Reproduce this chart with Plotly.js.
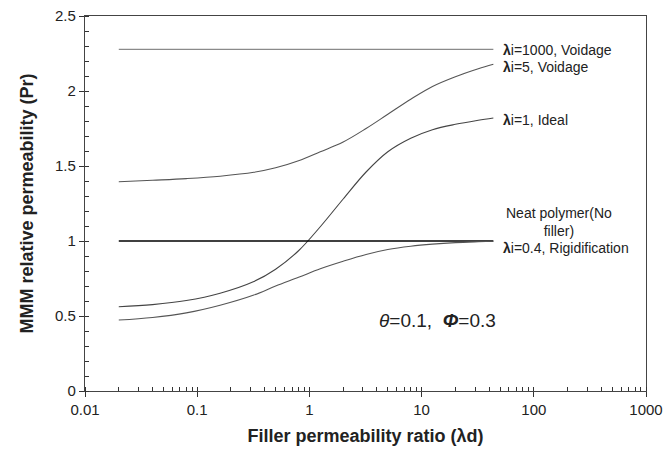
<!DOCTYPE html>
<html>
<head>
<meta charset="utf-8">
<script src="https://cdn.plot.ly/plotly-3.0.1.min.js"></script>
<style>html,body{margin:0;padding:0;background:#fff;}#chart{width:665px;height:453px;}</style>
</head>
<body>
<div id="chart"></div>
<script>
// Filler permeability ratio (λd)
const lambdaD = [0.02, 0.04, 0.08, 0.16, 0.32, 0.5, 0.8, 1.25, 2, 3.2, 5, 8, 12.5, 20, 32, 43.6];
const lambdaI1000 = [2.278, 2.278, 2.278, 2.278, 2.278, 2.278, 2.278, 2.278, 2.278, 2.278, 2.278, 2.278, 2.278, 2.278, 2.278, 2.278];
const lambdaI5 = [1.395, 1.405, 1.416, 1.432, 1.458, 1.488, 1.535, 1.595, 1.66, 1.75, 1.845, 1.945, 2.03, 2.095, 2.148, 2.178];
const lambdaI1 = [0.562, 0.576, 0.603, 0.652, 0.73, 0.812, 0.935, 1.095, 1.28, 1.46, 1.595, 1.685, 1.742, 1.778, 1.805, 1.82];
const neatPolymer = [1, 1, 1, 1, 1, 1, 1, 1, 1, 1, 1, 1, 1, 1, 1, 1];
const lambdaI04 = [0.473, 0.490, 0.521, 0.572, 0.64, 0.70, 0.758, 0.815, 0.865, 0.91, 0.943, 0.965, 0.979, 0.989, 0.995, 0.998];

const seriesNames = ["λi=1000, Voidage", "λi=5, Voidage", "λi=1, Ideal", "Neat polymer(No filler)", "λi=0.4, Rigidification"];
const xTickVals = [0.01, 0.1, 1, 10, 100, 1000];
const xTickText = ["0.01", "0.1", "1", "10", "100", "1000"];

const FONT = "Arial, 'Liberation Sans', sans-serif";
const curve = (y, name, color, width) => ({
  x: lambdaD, y: y, name: name, type: "scatter", mode: "lines",
  line: {color: color, width: width, shape: "spline", smoothing: 1},
  hoverinfo: "skip"
});

const data = [
  curve(lambdaI1000, seriesNames[0], "#8a8a8a", 1.2),
  curve(lambdaI5, seriesNames[1], "#555555", 1.1),
  curve(lambdaI1, seriesNames[2], "#444444", 1.1),
  curve(neatPolymer, seriesNames[3], "#000000", 1.6),
  curve(lambdaI04, seriesNames[4], "#555555", 1.1)
];

const lastX = lambdaD[lambdaD.length - 1];
const ann = (text, y, opts) => Object.assign({
  x: Math.log10(lastX), y: y, xref: "x", yref: "y", text: text, showarrow: false,
  xanchor: "left", xshift: 8, font: {family: FONT, size: 14, color: "#222"}
}, opts || {});

const layout = {
  width: 665, height: 453,
  margin: {l: 85, r: 19, t: 16, b: 62},
  paper_bgcolor: "#fff", plot_bgcolor: "#fff",
  showlegend: false,
  font: {family: FONT, color: "#222"},
  xaxis: {
    type: "log", range: [-2, 3],
    tickvals: xTickVals, ticktext: xTickText,
    ticks: "outside", ticklen: 5, tickcolor: "#333", tickwidth: 1,
    minor: {ticks: "inside", ticklen: 4, tickcolor: "#333", dtick: "D1"},
    showline: true, linecolor: "#444", linewidth: 1.2, mirror: true,
    showgrid: false, zeroline: false,
    tickfont: {family: FONT, size: 15, color: "#222"},
    title: {text: "<b>Filler permeability ratio (λd)</b>", font: {family: FONT, size: 18, color: "#222"}, standoff: 12}
  },
  yaxis: {
    range: [0, 2.5], dtick: 0.5, tick0: 0,
    ticks: "outside", ticklen: 5, tickcolor: "#333", tickwidth: 1,
    minor: {ticks: "inside", ticklen: 4, tickcolor: "#333", dtick: 0.1},
    showline: true, linecolor: "#444", linewidth: 1.2, mirror: true,
    showgrid: false, zeroline: false,
    tickfont: {family: FONT, size: 15, color: "#222"},
    title: {text: "<b>MMM relative permeability (Pr)</b>", font: {family: FONT, size: 18, color: "#222"}, standoff: 16}
  },
  annotations: [
    ann("<b>λ</b>i=1000, Voidage", 2.278, {yshift: -1}),
    ann("<b>λ</b>i=5, Voidage", 2.178, {yshift: -3}),
    ann("<b>λ</b>i=1, Ideal", 1.82, {yshift: -2}),
    ann("Neat polymer(No<br>filler)", 1.0, {xanchor: "center", xshift: 66, yshift: 19, align: "center"}),
    ann("<b>λ</b>i=0.4, Rigidification", 0.998, {yshift: -7}),
    {x: Math.log10(4.0), y: 0.47, xref: "x", yref: "y", showarrow: false, xanchor: "left",
     text: "<i>θ</i>=0.1,  <b><i>Φ</i></b>=0.3", font: {family: FONT, size: 19, color: "#222"}}
  ]
};

Plotly.newPlot("chart", data, layout, {staticPlot: true});
</script>
</body>
</html>
